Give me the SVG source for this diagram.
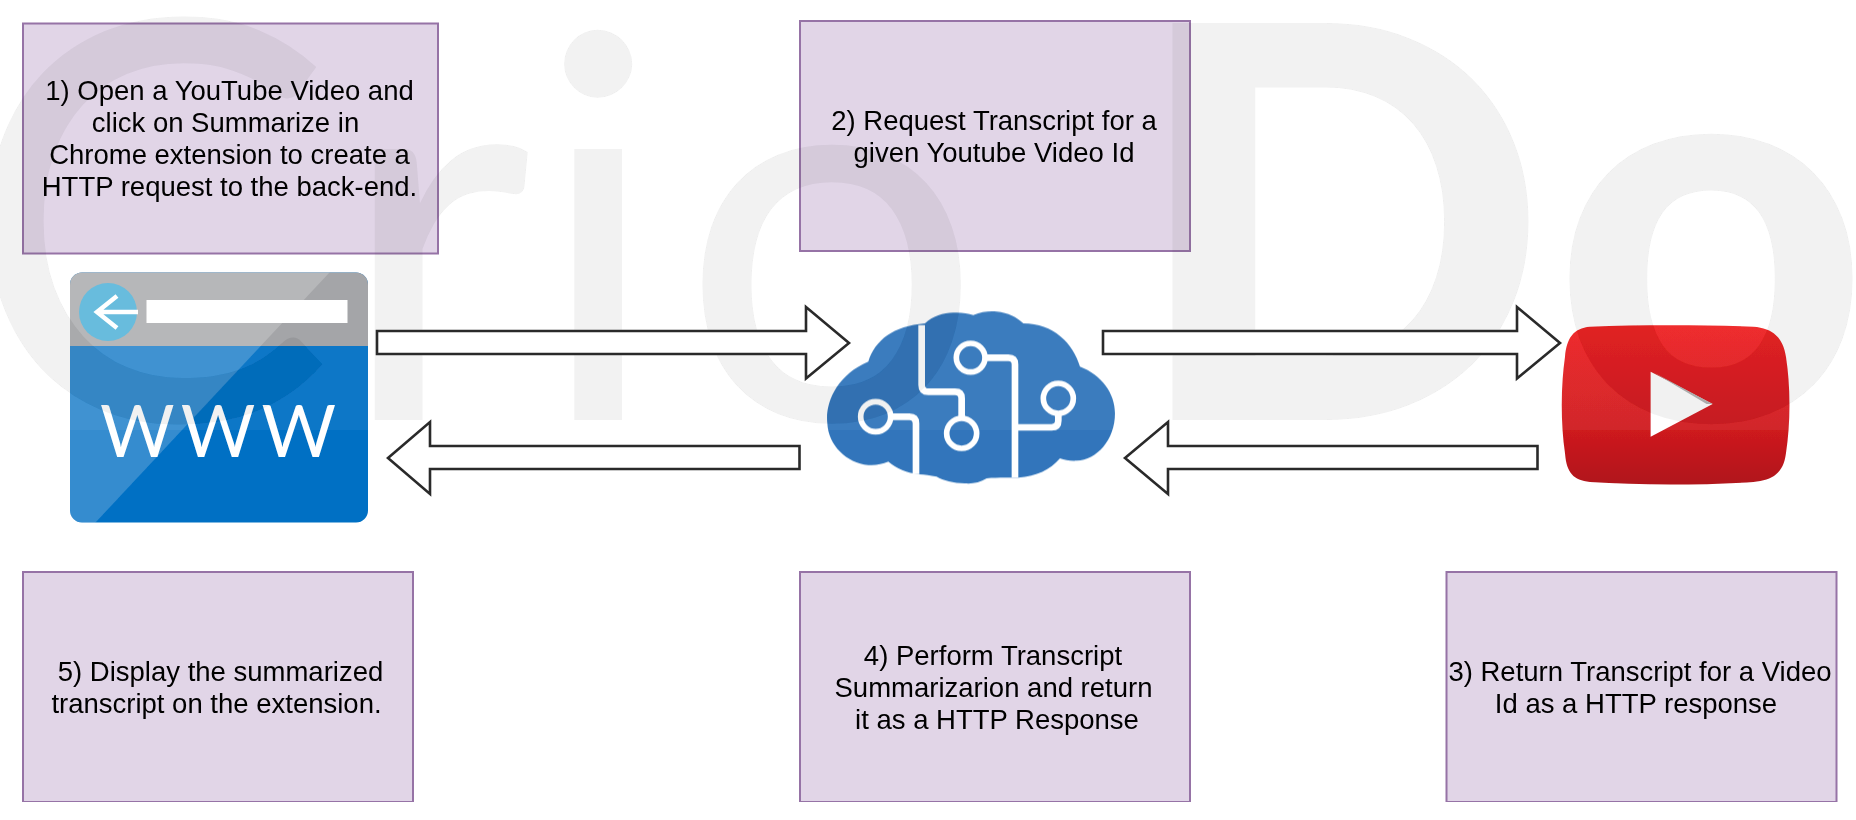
<svg xmlns="http://www.w3.org/2000/svg" width="1856" height="820" viewBox="0 0 1856 820">
<style>
.box{fill:#e1d5e7;stroke:#9673a6;stroke-width:2}
.lbl{font-family:"Liberation Sans",Arial,sans-serif;font-size:27.5px;fill:#000;text-anchor:middle}
.arrow{fill:#fff;stroke:#2a2a2a;stroke-width:2.6;stroke-linejoin:miter}
.wire{fill:none;stroke:#fff;stroke-width:20;stroke-linejoin:round}
.ring{fill:none;stroke:#fff;stroke-width:17}
</style>
<defs>
<linearGradient id="ytg" x1="0" y1="0" x2="0" y2="1"><stop offset="0" stop-color="#ee2020"/><stop offset="0.65" stop-color="#cf1a1f"/><stop offset="1" stop-color="#b0151a"/></linearGradient>
<clipPath id="wwwclip"><rect x="70" y="272.5" width="298" height="250" rx="12"/></clipPath>
<mask id="glow" maskUnits="userSpaceOnUse" x="0" y="0" width="1856" height="820"><rect x="0" y="0" width="1856" height="430" fill="#fff"/><g fill="#000"><use href="#wm"/></g></mask>
<filter id="soft" x="0" y="0" width="1" height="1"><feGaussianBlur stdDeviation="0.7"/></filter>
</defs>
<rect width="1856" height="820" fill="#fff"/>
<g filter="url(#soft)">
<g id="node-browser">
<rect x="70" y="272.5" width="298" height="250" rx="12" fill="#0270c4"/>
<g clip-path="url(#wwwclip)"><rect x="70" y="272" width="298" height="74" fill="#9fa0a3"/>
<polygon points="70,272 330,272 95,523 70,523" fill="#fff" opacity="0.2"/></g>
<circle cx="108" cy="312" r="29" fill="#5fb9dc"/>
<path d="M138 312H97M117 296L97 312L117 328" fill="none" stroke="#fff" stroke-width="4.5"/>
<rect x="146.5" y="300" width="201" height="23" fill="#fff"/>
<text x="218" y="457" font-family="Lato,Liberation Sans,sans-serif" font-size="72" fill="#fff" text-anchor="middle" textLength="236" lengthAdjust="spacing">WWW</text>
</g>
<g id="node-brain" transform="translate(800 290) scale(0.3333)">
<path fill="#3075bb" d="M205 215C225 150 280 108 375 100C400 75 440 65 470 68C490 68 505 72 520 75C545 65 570 63 590 65C625 68 650 82 670 100C760 100 820 160 840 230C905 255 945 310 945 370C945 450 890 510 830 512C810 513 795 510 780 505C750 540 710 558 655 563C620 563 590 562 560 565C540 578 515 582 495 580C460 580 430 572 410 560C390 556 375 553 360 553C320 550 290 535 265 515C245 523 225 527 205 525C140 520 85 465 82 400C75 340 110 255 205 215Z"/>
<path class="wire" d="M365 105V285Q365 305 385 305H465Q485 305 485 325V385"/>
<circle class="ring" cx="485" cy="430" r="45"/>
<circle class="ring" cx="512" cy="203" r="43"/>
<path class="wire" d="M555 203H625Q645 203 645 223V562"/>
<circle class="ring" cx="775" cy="325" r="45"/>
<path class="wire" d="M775 370V392Q775 412 755 412H645"/>
<circle class="ring" cx="227" cy="380" r="45"/>
<path class="wire" d="M272 380H328Q348 380 348 400V552"/>
</g>
<g id="node-youtube" transform="translate(1540 300) scale(0.3333)">
<path fill="url(#ytg)" d="M150 80C300 74 480 74 640 80C700 84 730 115 738 170C752 260 752 370 738 460C730 520 700 540 640 546C480 556 300 556 150 546C100 540 80 520 75 460C62 370 62 260 75 170C80 115 100 84 150 80Z"/>
<polygon points="332,215 518,312 332,410" fill="#fff"/>
<polygon points="340,217 518,312 500,312" fill="#b5b5b5"/>
</g>
<rect x="0" y="0" width="1856" height="430" fill="#fff" opacity="0.055" mask="url(#glow)"/>
<g id="node-step1"><rect class="box" x="23" y="23.5" width="415" height="230"/>
<text class="lbl"><tspan x="229.5" y="100">1) Open a YouTube Video and</tspan><tspan x="225.5" y="132">click on Summarize in</tspan><tspan x="229.5" y="164">Chrome extension to create a</tspan><tspan x="229.5" y="196">HTTP request to the back-end.</tspan></text></g>
<g id="node-step2"><rect class="box" x="800" y="21" width="390" height="230"/>
<text class="lbl"><tspan x="994" y="130">2) Request Transcript for a</tspan><tspan x="994" y="162">given Youtube Video Id</tspan></text></g>
<g id="node-step5"><rect class="box" x="23" y="572" width="390" height="230"/>
<text class="lbl"><tspan x="220.5" y="681">5) Display the summarized</tspan><tspan x="216.5" y="713">transcript on the extension.</tspan></text></g>
<g id="node-step4"><rect class="box" x="800" y="572" width="390" height="230"/>
<text class="lbl"><tspan x="993" y="665">4) Perform Transcript</tspan><tspan x="993.5" y="697">Summarizarion and return</tspan><tspan x="997" y="729">it as a HTTP Response</tspan></text></g>
<g id="node-step3"><rect class="box" x="1446.5" y="572" width="390" height="230"/>
<text class="lbl"><tspan x="1640" y="681">3) Return Transcript for a Video</tspan><tspan x="1636" y="713">Id as a HTTP response</tspan></text></g>
<g fill="#3e3e3e" fill-opacity="0.0725">
<text id="wm" y="420" font-family="Lato,sans-serif" font-size="557"><tspan x="-38">C</tspan><tspan x="337" font-size="535">r</tspan><tspan x="534" font-size="535">i</tspan><tspan x="680" font-size="535">o</tspan><tspan x="1131" font-weight="900" font-size="547">D</tspan><tspan x="1553" font-weight="900" font-size="547">o</tspan></text>
</g>
<g id="connectors">
<path class="arrow" d="M377 331H806V307L849 343L806 378.5V354H377Z"/>
<path class="arrow" d="M799.5 446H430V422L388 458L430 494V469H799.5Z"/>
<path class="arrow" d="M1103 331H1517V307L1560 343L1517 378.5V354H1103Z"/>
<path class="arrow" d="M1537.5 446H1168V422L1125 458L1168 494V469H1537.5Z"/>
</g>
</g>
</svg>
